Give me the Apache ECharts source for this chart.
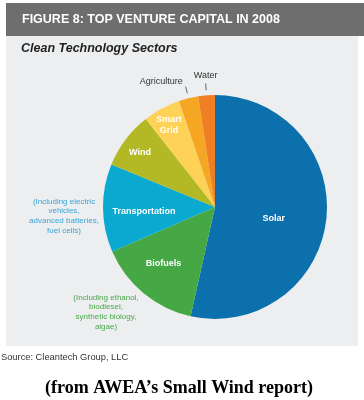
<!DOCTYPE html>
<html><head><meta charset="utf-8">
<script src="https://cdn.jsdelivr.net/npm/echarts@6/dist/echarts.min.js"></script>
<style>html,body{margin:0;padding:0;background:#fff}#c{width:364px;height:400px}</style>
</head><body><div id="c"></div>
<script>
const categories = ['Solar','Biofuels','Transportation','Wind','Smart Grid','Agriculture','Water'];
const labels = ['Solar','Biofuels','Transportation','Wind','Smart\nGrid','Agriculture','Water'];
const values = [53.5, 15.0, 12.7, 8.2, 5.4, 2.8, 2.4];
const colors = ['#0b70ab','#45a845','#0aa9d0','#b2b925','#fdd257','#f5a623','#f07f24'];
const labelOffsets = [[0,5],[-14,11],[-12,4],[-28,-19],[-18,-30],[0,0],[0,0]];
const CX = 215, CY = 207, R = 112;

const chart = echarts.init(document.getElementById('c'), null, {renderer:'canvas'});
const data = categories.map((c,i)=>{
  const inside = i < 5;
  return {
    name: c, value: values[i],
    itemStyle: {color: colors[i]},
    label: inside ? {position:'inside', formatter: labels[i], color:'#fff', fontWeight:'bold',
      fontSize:9, lineHeight:11, offset: labelOffsets[i], fontFamily:'Liberation Sans'} :
      {position:'outside', formatter: labels[i], color:'#333', fontSize:9, fontFamily:'Liberation Sans'},
    labelLine: inside ? {show:false} : {show:true, length:6, length2:0, lineStyle:{color:'#666', width:1}}
  };
});
chart.setOption({
  backgroundColor:'#fff',
  animation:false,
  graphic:[
    {type:'rect', shape:{x:6,y:3,width:358,height:33}, style:{fill:'#6e6e6e'}},
    {type:'rect', shape:{x:6,y:36,width:352,height:310}, style:{fill:'#eceef0'}},
    {type:'text', x:22, y:20, style:{text:'FIGURE 8: TOP VENTURE CAPITAL IN 2008', fill:'#fff', font:'bold 12.5px "Liberation Sans"', textVerticalAlign:'middle'}},
    {type:'text', x:21, y:49, style:{text:'Clean Technology Sectors', fill:'#222', font:'italic bold 12.5px "Liberation Sans"', textVerticalAlign:'middle'}},
    {type:'text', x:64, y:216, style:{text:'(Including electric\nvehicles,\nadvanced batteries,\nfuel cells)', fill:'#3aa3d4', font:'8px "Liberation Sans"', lineHeight:9.7, textAlign:'center', textVerticalAlign:'middle'}},
    {type:'text', x:106, y:312, style:{text:'(Including ethanol,\nbiodiesel,\nsynthetic biology,\nalgae)', fill:'#4aa84a', font:'8px "Liberation Sans"', lineHeight:9.7, textAlign:'center', textVerticalAlign:'middle'}},
    {type:'text', x:1, y:357, style:{text:'Source: Cleantech Group, LLC', fill:'#333', font:'9.3px "Liberation Sans"', textVerticalAlign:'middle'}},
    {type:'text', x:179, y:388, style:{text:'(from AWEA\u2019s Small Wind report)', fill:'#000', font:'bold 18px "Liberation Serif"', textAlign:'center', textVerticalAlign:'middle'}}
  ],
  series:[{
    type:'pie', center:[CX,CY], radius:[0,R], startAngle:90, clockwise:true,
    data: data, itemStyle:{borderWidth:0}, emphasis:{disabled:true},
    labelLayout: function(p){
      if (p.dataIndex < 5 || !p.labelLinePoints) return {};
      const s = p.labelLinePoints[0];
      const dx = s[0]-CX, dy = s[1]-CY, d = Math.sqrt(dx*dx+dy*dy);
      const ux = dx/d, uy = dy/d;
      const a = [s[0]+ux*5, s[1]+uy*5], b = [s[0]+ux*12, s[1]+uy*12];
      if (p.dataIndex === 5) {
        return {x:b[0]-3, y:b[1]-5, align:'right', verticalAlign:'middle', labelLinePoints:[a,b,b]};
      }
      return {x:b[0], y:b[1]-8, align:'center', verticalAlign:'middle', labelLinePoints:[a,b,b]};
    }
  }]
});
</script></body></html>
